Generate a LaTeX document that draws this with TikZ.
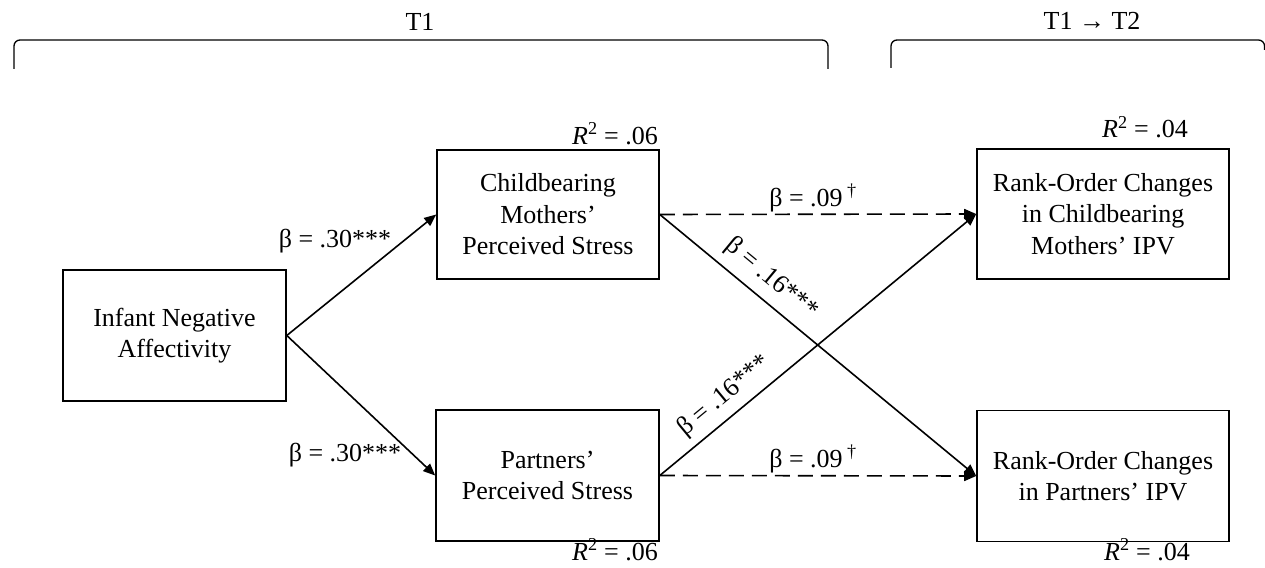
\documentclass[tikz,border=0pt]{standalone}
\usepackage{fontspec}
\setmainfont{Liberation Serif}
\usetikzlibrary{arrows.meta}
\begin{document}
\begin{tikzpicture}[x=1pt,y=-1pt,
  every node/.style={font=\fontsize{26pt}{31.5pt}\selectfont},
  box/.style={draw, line width=1.6pt, align=center, inner sep=0pt},
  arr/.style={line width=1.6pt, -{Triangle[length=12pt,width=10pt]}},
  darr/.style={arr, dash pattern=on 15pt off 8pt},
  lab/.style={anchor=base, inner sep=0pt},
  slab/.style={sloped, anchor=south},
  brk/.style={line width=1.3pt, rounded corners=6pt}]
\useasboundingbox (0,0) rectangle (1265,567);
% boxes
\node[box, minimum width=223pt, minimum height=131pt] (inf) at (174.5,335.5) {Infant Negative\\Affectivity};
\node[box, minimum width=222pt, minimum height=129pt] (cms) at (548,214.5) {Childbearing\\Mothers'\\Perceived Stress};
\node[box, minimum width=223pt, minimum height=131pt] (pps) at (547.5,475.5) {Partners'\\Perceived Stress};
\node[box, minimum width=252pt, minimum height=130pt] (rcm) at (1103,214) {Rank-Order Changes\\in Childbearing\\Mothers' IPV};
\node[box, minimum width=252pt, minimum height=131pt] (rcp) at (1103,476) {Rank-Order Changes\\in Partners' IPV};
% R2 labels
\node[lab] (r1) at (615,144) {\textit{R}\textsuperscript{2} = .06};
\node[lab] (r2) at (615,560) {\textit{R}\textsuperscript{2} = .06};
\node[lab] (r3) at (1145,138) {\textit{R}\textsuperscript{2} = .04};
\node[lab] (r4) at (1147,560) {\textit{R}\textsuperscript{2} = .04};
% connectors
\draw[arr] (inf.east) -- (cms.west);
\draw[arr] (inf.east) -- (pps.west);
\draw[darr] (cms.east) -- (rcm.west);
\draw[darr] (pps.east) -- (rcp.west);
\draw[arr] (cms.east) -- node[slab, pos=0.31, inner ysep=9pt] (l5) {β = .16***} (rcp.west);
\draw[arr] (pps.east) -- node[slab, pos=0.245, inner ysep=7.5pt] (l6) {β = .16***} (rcm.west);
% beta labels
\node[lab] (l1) at (335,247) {β = .30***};
\node[lab] (l2) at (345,461) {β = .30***};
\node[lab] (l3) at (813,206) {β = .09\,\textsuperscript{†}};
\node[lab] (l4) at (813,467) {β = .09\,\textsuperscript{†}};
% brackets
\coordinate (b1a) at (14,69);
\coordinate (b1b) at (14,40);
\coordinate (b1c) at (828,40);
\coordinate (b1d) at (828,69);
\draw[brk] (b1a) -- (b1b) -- (b1c) -- (b1d);
\node (t1) at (420,22) {T1};
\coordinate (b2a) at (891,68);
\coordinate (b2b) at (891,40);
\coordinate (b2c) at (1264.5,40);
\coordinate (b2d) at (1264.5,50);
\draw[brk] (b2a) -- (b2b) -- (b2c) -- (b2d);
\node (t2) at (1092,21) {T1 → T2};
\end{tikzpicture}
\end{document}
